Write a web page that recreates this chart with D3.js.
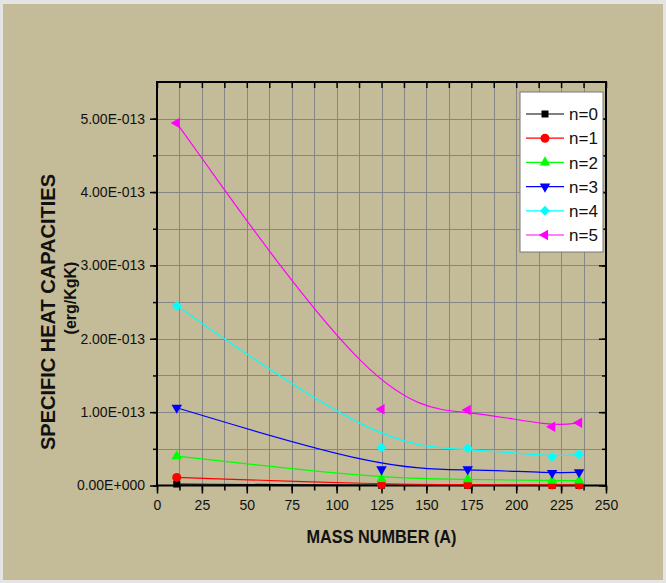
<!DOCTYPE html>
<html>
<head>
<meta charset="utf-8">
<script src="https://cdn.jsdelivr.net/npm/d3@7"></script>
<style>
	body { margin: 0; background: #e4e4e4; }
	svg { display: block; }
	text { font-family: "Liberation Sans", Arial, sans-serif; fill: #111; }
</style>
</head>
<body>
<div id="chart"></div>
<script>
// mass numbers (x) and specific heat capacities (erg/KgK) per level n
const massNumbers = [11, 125, 173, 220, 235];
const seriesNames = ["n=0", "n=1", "n=2", "n=3", "n=4", "n=5"];
const n0 = [0.02e-13, 0.004e-13, 0.003e-13, 0.002e-13, 0.002e-13];
const n1 = [0.11e-13, 0.015e-13, 0.012e-13, 0.008e-13, 0.008e-13];
const n2 = [0.40e-13, 0.09e-13, 0.085e-13, 0.065e-13, 0.068e-13];
const n3 = [1.06e-13, 0.22e-13, 0.22e-13, 0.17e-13, 0.18e-13];
const n4 = [2.45e-13, 0.515e-13, 0.507e-13, 0.39e-13, 0.425e-13];
const n5 = [4.94e-13, 1.04e-13, 1.03e-13, 0.80e-13, 0.855e-13];
const xTickValues = [0, 25, 50, 75, 100, 125, 150, 175, 200, 225, 250];
const yTickValues = [0, 1e-13, 2e-13, 3e-13, 4e-13, 5e-13];

const allSeries = [n0, n1, n2, n3, n4, n5];
const colors = ["#000000", "#ff0000", "#00ff00", "#0000ff", "#00ffff", "#ff00ff"];

const width = 666, height = 583;
const plot = { left: 157, right: 606, top: 82, bottom: 485.5 };

const svg = d3.select('#chart').append('svg')
	.attr('width', width)
	.attr('height', height);

svg.append('rect')
	.attr('x', 3).attr('y', 4)
	.attr('width', width - 6).attr('height', height - 7)
	.attr('fill', '#c4bc98');

const x = d3.scaleLinear().domain([0, 250]).range([plot.left, plot.right]);
const y = d3.scaleLinear().domain([0, 5.5e-13]).range([plot.bottom, plot.top]);

function sciFmt(v) {
	if (v === 0) return '0.00E+000';
	const e = Math.floor(Math.log10(Math.abs(v)) + 1e-9);
	const m = v / Math.pow(10, e);
	return m.toFixed(2) + 'E' + (e < 0 ? '-' : '+') + String(Math.abs(e)).padStart(3, '0');
}

const xMinor = d3.range(0, 250.1, 12.5);
const yMinor = d3.range(0, 11).map(i => i * 0.5e-13);

// grid
const grid = svg.append('g')
	.attr('stroke', '#868686')
	.attr('stroke-width', 1);
grid.selectAll('.vg')
	.data(xMinor.filter(d => d > 0 && d < 250))
	.enter().append('line')
		.attr('x1', d => Math.round(x(d)) + 0.5).attr('x2', d => Math.round(x(d)) + 0.5)
		.attr('y1', plot.top).attr('y2', plot.bottom);
grid.selectAll('.hg')
	.data(yMinor.filter(d => d > 0))
	.enter().append('line')
		.attr('y1', d => Math.round(y(d)) + 0.5).attr('y2', d => Math.round(y(d)) + 0.5)
		.attr('x1', plot.left).attr('x2', plot.right);

// axes
const xAxis = d3.axisBottom(x).tickValues(xTickValues).tickSize(8).tickPadding(7).tickFormat(d3.format('d'));
const xAxisMinor = d3.axisBottom(x).tickValues(xMinor).tickSize(5).tickFormat('');
const xAxisTop = d3.axisTop(x).tickValues(xMinor).tickSize(-6).tickFormat('');
const yAxis = d3.axisLeft(y).tickValues(yTickValues).tickSize(7).tickPadding(5).tickFormat(sciFmt);
const yAxisMinor = d3.axisLeft(y).tickValues(yMinor).tickSize(4).tickFormat('');
const yAxisRight = d3.axisRight(y).tickValues(yTickValues).tickSize(-7).tickFormat('');
const yAxisRightMinor = d3.axisRight(y).tickValues(yMinor).tickSize(-4).tickFormat('');

function styleAxis(g) {
	g.select('.domain').remove();
	g.selectAll('line').attr('stroke', '#000').attr('stroke-width', 1.5);
	g.selectAll('text').style('font-size', '14px').attr('fill', '#1a1a1a');
}

svg.append('g').attr('transform', `translate(0,${plot.bottom})`).call(xAxisMinor).call(styleAxis);
svg.append('g').attr('transform', `translate(0,${plot.bottom})`).call(xAxis).call(styleAxis);
svg.append('g').attr('transform', `translate(0,${plot.top})`).call(xAxisTop).call(styleAxis);
svg.append('g').attr('transform', `translate(${plot.left},0)`).call(yAxisMinor).call(styleAxis);
svg.append('g').attr('transform', `translate(${plot.left},0)`).call(yAxis).call(styleAxis);
svg.append('g').attr('transform', `translate(${plot.right},0)`).call(yAxisRight).call(styleAxis);
svg.append('g').attr('transform', `translate(${plot.right},0)`).call(yAxisRightMinor).call(styleAxis);

svg.append('rect')
	.attr('x', plot.left).attr('y', plot.top)
	.attr('width', plot.right - plot.left).attr('height', plot.bottom - plot.top)
	.attr('fill', 'none').attr('stroke', '#000').attr('stroke-width', 2);

// titles
svg.append('text')
	.attr('x', (plot.left + plot.right) / 2).attr('y', 543)
	.attr('text-anchor', 'middle')
	.attr('textLength', 150).attr('lengthAdjust', 'spacingAndGlyphs')
	.style('font-weight', 'bold').style('font-size', '18px')
	.text('MASS NUMBER (A)');

svg.append('text')
	.attr('transform', 'translate(55,312) rotate(-90)')
	.attr('text-anchor', 'middle')
	.style('font-weight', 'bold').style('font-size', '20px')
	.text('SPECIFIC HEAT CAPACITIES');

svg.append('text')
	.attr('transform', 'translate(76,298) rotate(-90)')
	.attr('text-anchor', 'middle')
	.style('font-weight', 'bold').style('font-size', '16px')
	.text('(erg/KgK)');

// markers
const symbols = [
	{ type: d3.symbolSquare, size: 49, rot: 0 },
	{ type: d3.symbolCircle, size: 64, rot: 0 },
	{ type: d3.symbolTriangle, size: 48, rot: 0 },
	{ type: d3.symbolTriangle, size: 48, rot: 180 },
	{ type: d3.symbolSquare, size: 50, rot: 45 },
	{ type: d3.symbolTriangle, size: 48, rot: -90 }
];

const line = d3.line()
	.x(d => x(d[0]))
	.y(d => y(d[1]))
	.curve(d3.curveBasis);

allSeries.forEach((vals, i) => {
	const pts = massNumbers.map((m, j) => [m, vals[j]]);
	const g = svg.append('g');
	g.append('path')
		.datum(pts)
		.attr('d', line)
		.attr('fill', 'none')
		.attr('stroke', colors[i])
		.attr('stroke-width', 1.2);
	g.selectAll('path.mark')
		.data(pts)
		.enter().append('path')
			.classed('mark', true)
			.attr('d', d3.symbol().type(symbols[i].type).size(symbols[i].size))
			.attr('transform', d => `translate(${x(d[0])},${y(d[1])}) rotate(${symbols[i].rot})`)
			.attr('fill', colors[i]);
});

// legend
const legend = svg.append('g').attr('transform', 'translate(520,92)');
legend.append('rect')
	.attr('width', 83).attr('height', 160)
	.attr('fill', '#fff').attr('stroke', '#777').attr('stroke-width', 1);

const items = legend.selectAll('.item')
	.data(seriesNames)
	.enter().append('g')
		.attr('transform', (d, i) => `translate(0,${22 + i * 24.2})`);
items.append('line')
	.attr('x1', 6).attr('x2', 44)
	.attr('stroke', (d, i) => colors[i])
	.attr('stroke-width', 1.2);
items.append('path')
	.attr('d', (d, i) => d3.symbol().type(symbols[i].type).size(symbols[i].size)())
	.attr('transform', (d, i) => `translate(25,0) rotate(${symbols[i].rot})`)
	.attr('fill', (d, i) => colors[i]);
items.append('text')
	.attr('x', 49).attr('dy', '0.36em')
	.style('font-size', '17px')
	.text(d => d);
</script>
</body>
</html>
